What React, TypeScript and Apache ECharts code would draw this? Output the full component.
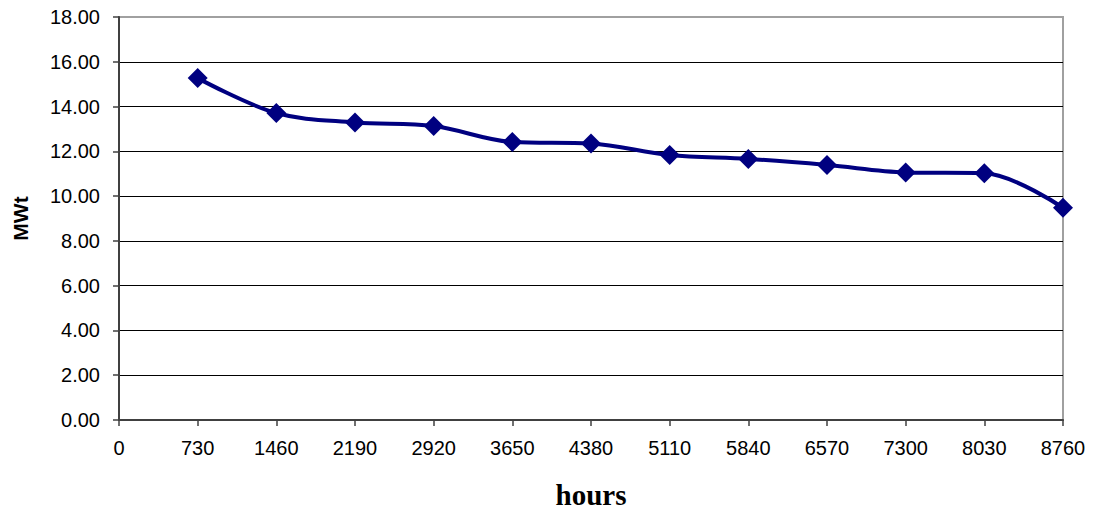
import React, { useEffect, useRef } from "react";
import * as echarts from "echarts";

const hours = [730, 1460, 2190, 2920, 3650, 4380, 5110, 5840, 6570, 7300, 8030, 8760];
const mwt = [15.27, 13.71, 13.29, 13.13, 12.42, 12.35, 11.84, 11.66, 11.39, 11.06, 11.02, 9.48];
const yAxisTitle = "MWt";
const xAxisTitle = "hours";

export default function App() {
  const ref = useRef<HTMLDivElement>(null);
  useEffect(() => {
    if (!ref.current) return;
    const chart = echarts.init(ref.current, undefined, { renderer: "svg" });
    const font = "'Liberation Sans', Arial, sans-serif";
    chart.setOption({
      animation: false,
      backgroundColor: "#ffffff",
      grid: {
        left: 119,
        top: 17,
        right: 30,
        bottom: 95,
        show: true,
        borderColor: "#a0a0a0",
        borderWidth: 2,
        backgroundColor: "transparent",
      },
      xAxis: {
        type: "value",
        min: 0,
        max: 8760,
        interval: 730,
        axisLine: { show: true, onZero: false, lineStyle: { color: "#404040", width: 2 } },
        axisTick: { show: true, length: 6, lineStyle: { color: "#404040", width: 1.5 } },
        axisLabel: {
          fontSize: 20,
          color: "#000",
          fontFamily: font,
          margin: 18,
          showMinLabel: true,
          showMaxLabel: true,
          formatter: (v: number) => String(v),
        },
        splitLine: { show: false },
      },
      yAxis: {
        type: "value",
        min: 0,
        max: 18,
        interval: 2,
        name: yAxisTitle,
        nameLocation: "middle",
        nameRotate: 90,
        nameGap: 88,
        nameTextStyle: { fontSize: 21, fontWeight: "bold", fontFamily: font, color: "#000" },
        axisLine: { show: true, lineStyle: { color: "#404040", width: 2 } },
        axisTick: { show: true, length: 6, lineStyle: { color: "#404040", width: 1.5 } },
        axisLabel: {
          fontSize: 20,
          color: "#000",
          fontFamily: font,
          margin: 19,
          formatter: (v: number) => v.toFixed(2),
        },
        splitLine: { show: true, showMaxLine: false, showMinLine: false, lineStyle: { color: "#000", width: 1 } },
      },
      series: [
        {
          type: "line",
          data: hours.map((h, i) => [h, mwt[i]]),
          smooth: 0.35,
          symbol: "diamond",
          symbolSize: 20,
          lineStyle: { color: "#000080", width: 4 },
          itemStyle: { color: "#000080" },
          z: 5,
        },
      ],
      graphic: [
        {
          type: "text",
          x: 591,
          y: 495,
          style: {
            text: xAxisTitle,
            fontSize: 29,
            fontWeight: "bold",
            fontFamily: "'Liberation Serif', 'Times New Roman', serif",
            fill: "#000",
            align: "center",
            verticalAlign: "middle",
          },
        },
      ],
    });
    return () => chart.dispose();
  }, []);
  return (
    <div
      ref={ref}
      style={{ position: "fixed", left: 0, top: 0, width: 1093, height: 515 }}
    />
  );
}
